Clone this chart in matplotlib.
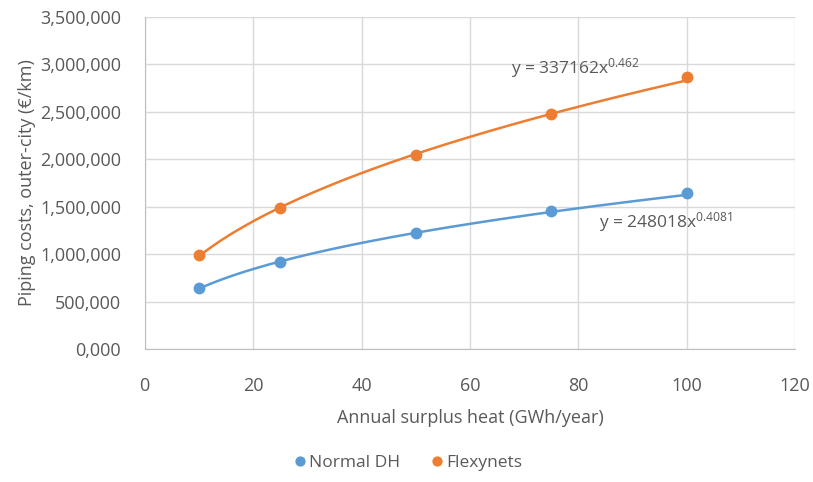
import numpy as np
import matplotlib.pyplot as plt
from matplotlib.ticker import FuncFormatter

plt.rcParams['font.family'] = ['Open Sans', 'DejaVu Sans']
plt.rcParams['mathtext.fontset'] = 'custom'
plt.rcParams['mathtext.rm'] = 'Open Sans'
plt.rcParams['mathtext.it'] = 'Open Sans'

# data
heat = [10, 25, 50, 75, 100]
normal_dh = [643000, 917000, 1223000, 1455000, 1645000]
flexynets = [991000, 1486000, 2045000, 2477000, 2867000]

# power trendlines shown on the chart (y = a * x^b)
fit_normal = (248018, 0.4081)
fit_flexy = (337162, 0.462)

blue = '#5b9bd5'
orange = '#ed7d31'
grey = '#595959'
grid = '#d9d9d9'

fig = plt.figure(figsize=(8.13, 4.82), dpi=100)
ax = fig.add_axes([0.178, 0.276, 0.800, 0.689])

xs = np.linspace(heat[0], heat[-1], 200)
ax.plot(xs, fit_normal[0] * xs ** fit_normal[1], color=blue, lw=1.8, zorder=3)
ax.plot(xs, fit_flexy[0] * xs ** fit_flexy[1], color=orange, lw=1.8, zorder=3)
ax.plot(heat, normal_dh, 'o', color=blue, ms=7.5, label='Normal DH', zorder=4)
ax.plot(heat, flexynets, 'o', color=orange, ms=7.5, label='Flexynets', zorder=4)

ax.set_xlim(0, 120)
ax.set_ylim(0, 3500000)
ax.set_xticks(np.arange(0, 121, 20))
ax.set_yticks(np.arange(0, 3500001, 500000))
ax.yaxis.set_major_formatter(FuncFormatter(lambda v, p: '0,000' if v == 0 else f'{int(v):,}'))
ax.grid(True, color=grid, lw=1)
ax.set_axisbelow(True)
for s in ['top', 'right']:
    ax.spines[s].set_visible(False)
for s in ['left', 'bottom']:
    ax.spines[s].set_color('#bfbfbf')
ax.tick_params(length=0, colors=grey, labelsize=13, pad=20)
ax.tick_params(axis='y', pad=17)

ax.set_xlabel('Annual surplus heat (GWh/year)', color=grey, fontsize=13, labelpad=10)
ax.set_ylabel('Piping costs, outer-city (€/km)', color=grey, fontsize=13, labelpad=3)

ax.text(67.5, 2960000, r'y = 337162x$^{0.462}$', color=grey, fontsize=12.5, va='center')
ax.text(83.8, 1339000, r'y = 248018x$^{0.4081}$', color=grey, fontsize=12.5, va='center')

fig.legend(loc='center', bbox_to_anchor=(0.5, 0.04), ncol=2, frameon=False,
           fontsize=12.5, labelcolor=grey, handletextpad=0.05, columnspacing=1.6,
           handlelength=1, markerscale=0.85)

fig.savefig('out.png', dpi=100)
